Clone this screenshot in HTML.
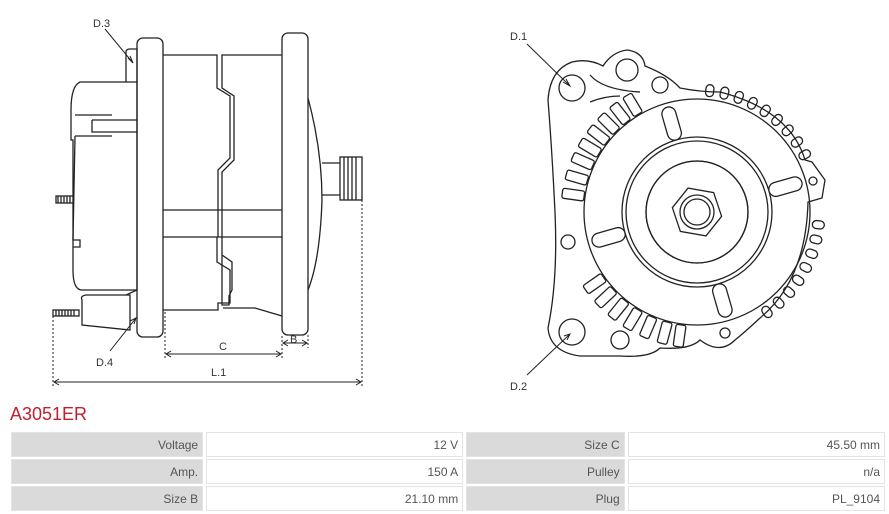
<!DOCTYPE html>
<html><head><style>
body{margin:0;background:#fff;width:889px;height:514px;overflow:hidden;font-family:"Liberation Sans",sans-serif;position:relative}
svg{position:absolute;left:0;top:0}
.t{position:absolute;left:10px;top:404px;color:#c4202b;font-size:18px}
table{position:absolute;left:8px;top:430px;border-collapse:separate;border-spacing:3px 2px;width:880px}
td{height:23px;font-size:12px;color:#555;text-align:right;padding:0 4px;border:1px solid #e4e4e4}
td.l{background:#dadada;width:184px}
td.v{background:#fff;width:250px}
td.l2{width:150px}
</style></head><body>
<svg width="889" height="400" viewBox="0 0 889 400" fill="none" stroke="#222" stroke-width="1.3" font-family="Liberation Sans,sans-serif">
<path d="M126,82 V52 Q126,49 130,49 H137 V82"/>
<path d="M80,82 H137 V290 H82 Q73,290 73,270 V140 H71 V110 Q71,86 80,82Z"/>
<path d="M75,115 H112 M92,120 H137 M92,120 V132 H137 M75,136 H112"/>
<path d="M75,136 L73,240 H80 V247 H73"/>
<rect x="56" y="196" width="17" height="7" fill="#fff"/>
<path d="M58,196 v7 M61,196 v7 M64,196 v7 M67,196 v7 M70,196 v7"/>
<path d="M82,300 Q80,296 86,295 H130 V330 L82,325 Z"/>
<path d="M126,295 L137,290"/>
<rect x="53" y="310" width="26" height="6" fill="#fff"/>
<path d="M56,310 v6 M59,310 v6 M62,310 v6 M65,310 v6 M68,310 v6 M71,310 v6 M74,310 v6"/>
<rect x="137" y="38" width="26" height="299" rx="6"/>
<rect x="282" y="33" width="26" height="302" rx="6"/>
<path d="M163,55 H217 V88 L230,96 V158 L218,170 V237 M223,55 H282"/>
<path d="M223,55 H222 V88 L234,96 V160 L222,172 V305 H229 V296 L232,290 V262 L222,255"/>
<path d="M163,210 H282 M163,237 H282 M163,237 H242"/>
<path d="M217,237 V262 L230,270 V303 H218 V310 H163"/>
<path d="M223,308 H255 L282,316"/>
<path d="M308,98 Q322,150 322,200 Q320,260 308,290"/>
<path d="M322,163 H340 M322,195 H340"/>
<rect x="340" y="157" width="22" height="43"/>
<path d="M344,157 v43 M348,157 v43 M352,157 v43 M356,157 v43"/>
<g stroke-dasharray="2,2" stroke-width="1">
<path d="M53,316 V386 M362,200 V386 M165,312 V358 M282,336 V358 M308,335 V348"/>
</g>
<g stroke-width="1">
<path d="M166,354 H281 M283,343 H307 M54,382 H361"/>
<path d="M171,351 L166,354 L171,357 M276,351 L281,354 L276,357 M288,340 L283,343 L288,346 M302,340 L307,343 L302,346 M59,379 L54,382 L59,385 M356,379 L361,382 L356,385"/>
<path d="M105,29 L133,63 M128,58 L133,63 L130,56 M110,351 L136,318 M130,321 L136,318 L134,324"/>
</g>
<g fill="#333" stroke="none" font-size="11">
<text x="93" y="27">D.3</text><text x="96" y="366">D.4</text>
<text x="219" y="350">C</text><text x="290" y="343">B</text><text x="211" y="376">L.1</text>
<text x="510" y="40">D.1</text><text x="510" y="390">D.2</text>
</g>
<path d="M548,100 Q550,70 572,62 Q588,58 603,66 Q612,52 627,50 Q643,52 645,66 Q668,75 680,88 Q700,92 720,92 Q790,110 805,160 L812,162 L825,180 L822,198 L808,202 Q806,280 760,318 Q745,332 735,340 Q720,355 700,340 Q690,350 660,348 Q650,358 620,356 L580,356 Q550,352 548,328 Q558,280 555,212 Q552,150 548,100Z" fill="#fff"/>
<circle cx="572" cy="88" r="13"/><circle cx="572" cy="332" r="13"/>
<circle cx="627" cy="70" r="11"/><circle cx="660" cy="85" r="8"/>
<circle cx="568" cy="242" r="7"/><circle cx="620" cy="340" r="9"/>
<circle cx="725" cy="333" r="5"/><circle cx="813" cy="181" r="4"/>
<path d="M590,75 Q603,90 640,92 M590,102 Q605,96 620,96"/>
<circle cx="697" cy="212" r="113"/>
<circle cx="697" cy="212" r="75"/><circle cx="697" cy="212" r="71"/><circle cx="697" cy="212" r="51"/>
<g fill="#fff">
<rect x="772" y="205" width="34" height="14" rx="7" transform="rotate(-16 697 212)"/>
<rect x="772" y="205" width="34" height="14" rx="7" transform="rotate(74 697 212)"/>
<rect x="772" y="205" width="34" height="14" rx="7" transform="rotate(164 697 212)"/>
<rect x="772" y="205" width="34" height="14" rx="7" transform="rotate(254 697 212)"/>
</g>
<circle cx="697" cy="212" r="51"/>
<polygon points="722,212 710,234 684,234 672,212 684,190 710,190" transform="rotate(10 697 212)"/>
<circle cx="697" cy="212" r="17"/><circle cx="697" cy="212" r="13"/>
<g>
<rect x="561" y="207" width="22" height="10" rx="2" transform="rotate(8 697 212)"/>
<rect x="561" y="207" width="22" height="10" rx="2" transform="rotate(16 697 212)"/>
<rect x="561" y="207" width="22" height="10" rx="2" transform="rotate(24 697 212)"/>
<rect x="561" y="207" width="22" height="10" rx="2" transform="rotate(31 697 212)"/>
<rect x="561" y="207" width="22" height="10" rx="2" transform="rotate(38 697 212)"/>
<rect x="561" y="207" width="22" height="10" rx="2" transform="rotate(45 697 212)"/>
<rect x="561" y="207" width="22" height="10" rx="2" transform="rotate(52 697 212)"/>
<rect x="561" y="207" width="22" height="10" rx="2" transform="rotate(59 697 212)"/>
<rect x="561" y="207" width="22" height="10" rx="2" transform="rotate(-35 697 212)"/>
<rect x="561" y="207" width="22" height="10" rx="2" transform="rotate(-43 697 212)"/>
<rect x="561" y="207" width="22" height="10" rx="2" transform="rotate(-51 697 212)"/>
<rect x="561" y="207" width="22" height="10" rx="2" transform="rotate(-59 697 212)"/>
<rect x="561" y="207" width="22" height="10" rx="2" transform="rotate(-67 697 212)"/>
<rect x="561" y="207" width="22" height="10" rx="2" transform="rotate(-75 697 212)"/>
<rect x="561" y="207" width="22" height="10" rx="2" transform="rotate(-82 697 212)"/>
</g>
<g>
<rect x="813" y="208" width="12" height="8" rx="4" transform="rotate(-84 697 212)"/>
<rect x="813" y="208" width="12" height="8" rx="4" transform="rotate(-77 697 212)"/>
<rect x="813" y="208" width="12" height="8" rx="4" transform="rotate(-70 697 212)"/>
<rect x="813" y="208" width="12" height="8" rx="4" transform="rotate(-63 697 212)"/>
<rect x="813" y="208" width="12" height="8" rx="4" transform="rotate(-56 697 212)"/>
<rect x="813" y="208" width="12" height="8" rx="4" transform="rotate(-49 697 212)"/>
<rect x="813" y="208" width="12" height="8" rx="4" transform="rotate(-42 697 212)"/>
<rect x="813" y="208" width="12" height="8" rx="4" transform="rotate(-35 697 212)"/>
<rect x="813" y="208" width="12" height="8" rx="4" transform="rotate(-28 697 212)"/>
<rect x="813" y="208" width="12" height="8" rx="4" transform="rotate(6 697 212)"/>
<rect x="813" y="208" width="12" height="8" rx="4" transform="rotate(13 697 212)"/>
<rect x="813" y="208" width="12" height="8" rx="4" transform="rotate(20 697 212)"/>
<rect x="813" y="208" width="12" height="8" rx="4" transform="rotate(27 697 212)"/>
<rect x="813" y="208" width="12" height="8" rx="4" transform="rotate(34 697 212)"/>
<rect x="813" y="208" width="12" height="8" rx="4" transform="rotate(41 697 212)"/>
<rect x="813" y="208" width="12" height="8" rx="4" transform="rotate(48 697 212)"/>
<rect x="813" y="208" width="12" height="8" rx="4" transform="rotate(55 697 212)"/>
</g>
<g stroke-width="1">
<path d="M527,44 L570,86 M563,82 L570,86 L566,79 M527,375 L570,334 M564,336 L570,334 L567,340"/>
</g>
</svg>
<div class="t">A3051ER</div>
<table>
<tr><td class="l">Voltage</td><td class="v">12 V</td><td class="l l2">Size C</td><td class="v">45.50 mm</td></tr>
<tr><td class="l">Amp.</td><td class="v">150 A</td><td class="l l2">Pulley</td><td class="v">n/a</td></tr>
<tr><td class="l">Size B</td><td class="v">21.10 mm</td><td class="l l2">Plug</td><td class="v">PL_9104</td></tr>
</table>
</body></html>
